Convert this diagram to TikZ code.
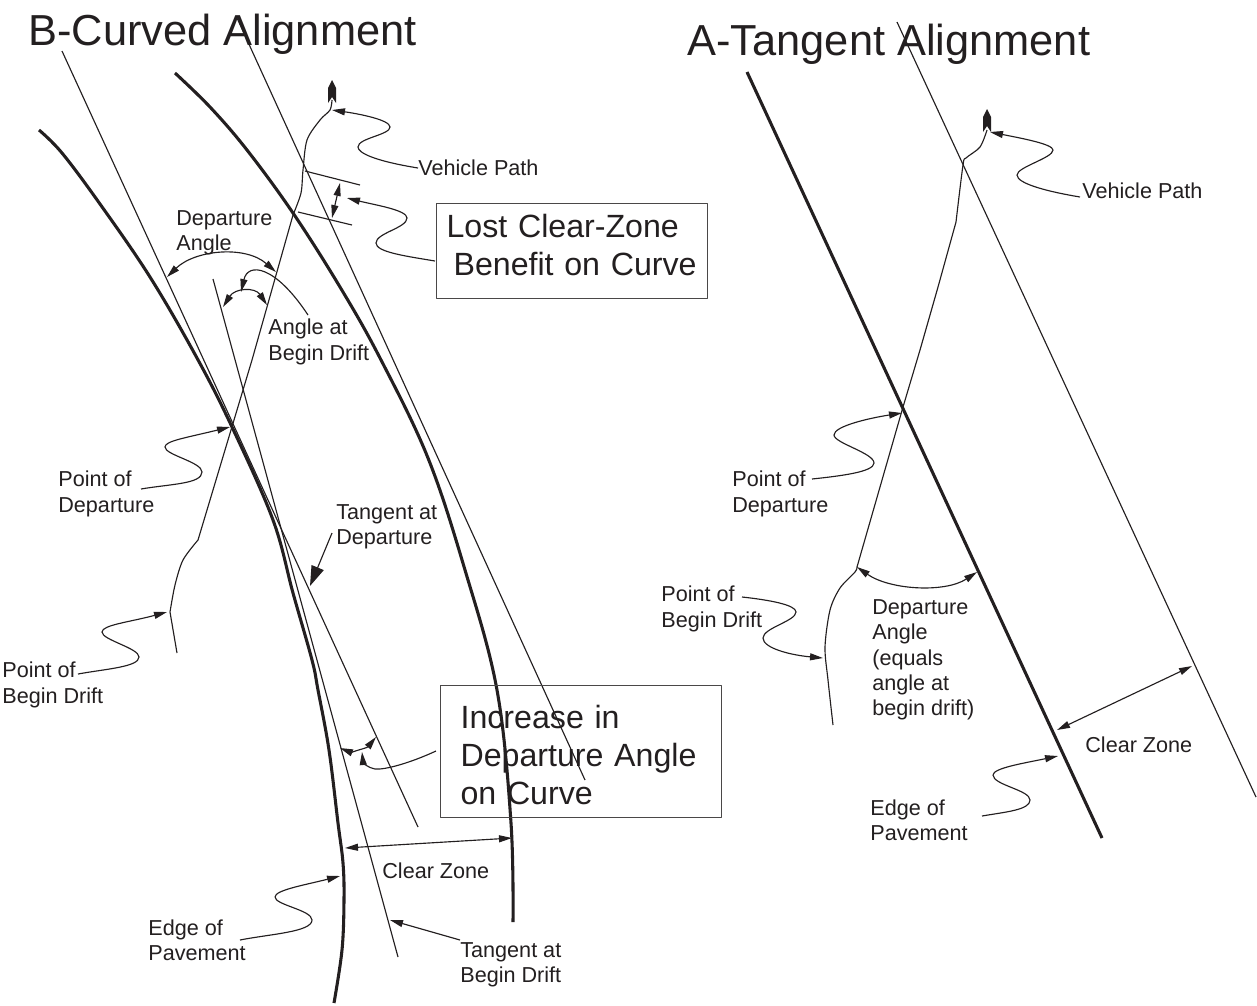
\documentclass[tikz,border=0pt]{standalone}
\usepackage{fontspec}
\setmainfont{Liberation Sans}
\usetikzlibrary{arrows.meta}
\definecolor{ink}{HTML}{231F20}
\definecolor{boxline}{HTML}{4A4848}
\begin{document}
\begin{tikzpicture}[
	x=0.02cm,
	y=-0.02cm,
	color=ink,
	line join=round,
	font=\fontsize{12.3}{14.4}\selectfont,
	thin line/.style={line width=0.65pt},
	thick line/.style={line width=1.75pt},
	leader/.style={line width=0.65pt,-{Triangle[length=2.6mm,width=1.4mm]}},
	both/.style={line width=0.65pt,{Triangle[length=2.6mm,width=1.4mm]}-{Triangle[length=2.6mm,width=1.4mm]}},
	label/.style={anchor=west,align=left,inner sep=0pt},
	title/.style={anchor=west,inner sep=0pt,font=\fontsize{24.7}{28}\selectfont},
	note/.style={draw=boxline,line width=0.65pt,anchor=north west,align=left,font=\fontsize{18.3}{21.7}\selectfont},
	vehicle/.pic={
		\fill (0,-12) -- (4,-4) -- (4,11) -- (0,5) -- (-4,11) -- (-4,-4) -- cycle;
	},
	]
\useasboundingbox (0,0) rectangle (1257,1005);
\node [title] (titleB) at (28,34) {B-Curved Alignment};
\node [title] (titleA) at (687,44) {A-Tangent Alignment};
\draw [thick line] plot [smooth,tension=0.6] coordinates {(39,130) (62,153) (100,204) (150,277) (197,358) (232,427) (273,520) (293,593) (312,660) (318,690) (329,750) (338,823) (343,863) (344,900) (342,950) (334,1003)};
\draw [thick line] plot [smooth,tension=0.6] coordinates {(175,73) (210,107) (247,150) (293,213) (340,287) (380,358) (428,458) (465,570) (497,690) (511,823) (513,922)};
\coordinate (tanDepTop) at (62,51);
\coordinate (tanDepEnd) at (418,827);
\coordinate (tanDrfTop) at (213,279);
\coordinate (tanDrfEnd) at (398,957);
\coordinate (offsetTop) at (237,18);
\coordinate (offsetEnd) at (585,780);
\draw [thin line] (tanDepTop) -- (tanDepEnd);
\draw [thin line] (tanDrfTop) -- (tanDrfEnd);
\draw [thin line] (offsetTop) -- (offsetEnd);
\draw [thin line] (177,653) -- (170,612) -- plot [smooth,tension=0.5] coordinates {(170,612) (175,585) (183,560) (198,540)} -- (252,360) -- (293,215) -- plot [smooth,tension=0.5] coordinates {(293,215) (301,193) (303,170) (307,140) (320,120) (330,110) (332,100)};
\pic at (332,92) {vehicle};
\coordinate (tickAa) at (305,171);
\coordinate (tickAb) at (360,185);
\coordinate (tickBa) at (298,212);
\coordinate (tickBb) at (352,225);
\coordinate (lostA) at (340,183);
\coordinate (lostB) at (332,218);
\draw [thin line] (tickAa) -- (tickAb);
\draw [thin line] (tickBa) -- (tickBb);
\draw [both] (lostA) -- (lostB);
\node [label] (pathB) at (418,168) {Vehicle Path};
\coordinate (pathBtip) at (332,110);
\draw [leader] (pathB.west) .. controls (375,161) and (358,153) .. (358,147) .. controls (358,138) and (390,135) .. (390,127) .. controls (390,120) and (360,114) .. (pathBtip);
\node [note,inner xsep=0.2cm,inner ysep=0pt,text width=5.02cm,minimum height=1.9cm] (lostbox) at (436,203) {Lost Clear-Zone\\\hspace*{0.14cm}Benefit on Curve\\[-0.52cm]\mbox{}};
\coordinate (lostStart) at (435,261);
\coordinate (lostTip) at (347,198);
\draw [leader] (lostStart) .. controls (405,256) and (376,252) .. (376,243) .. controls (376,233) and (407,228) .. (407,218) .. controls (407,210) and (375,205) .. (lostTip);
\node [label] (depAngB) at (176,233) {Departure\\Angle};
\coordinate (depAngBa) at (167,277);
\coordinate (depAngBb) at (276,272);
\draw [both] (depAngBa) .. controls (195,250) and (245,245) .. (depAngBb);
\coordinate (drfAngBa) at (223,307);
\coordinate (drfAngBb) at (267,305);
\draw [both] (drfAngBa) .. controls (235,288) and (255,287) .. (drfAngBb);
\node [label] (drfAngB) at (268,342) {Angle at\\Begin Drift};
\coordinate (drfAngStart) at (308,315);
\coordinate (drfAngTip) at (241,292);
\draw [leader] (drfAngStart) .. controls (275,265) and (248,262) .. (drfAngTip);
\node [label] (depPtB) at (58,494) {Point of\\Departure};
\coordinate (depPtBstart) at (141,489);
\coordinate (depPtBtip) at (230,427);
\draw [leader] (depPtBstart) .. controls (170,484) and (202,484) .. (202,472) .. controls (202,462) and (165,455) .. (165,447) .. controls (165,441) and (185,438) .. (depPtBtip);
\node [label] (tanDep) at (336,527) {Tangent at\\Departure};
\coordinate (tanDepStart) at (332,533);
\coordinate (tanDepTip) at (310,586);
\draw [line width=0.65pt,-{Triangle[length=4mm,width=2.6mm]}] (tanDepStart) -- (tanDepTip);
\node [label] (drfPtB) at (2,685) {Point of\\Begin Drift};
\coordinate (drfPtBstart) at (78,674);
\coordinate (drfPtBtip) at (167,612);
\draw [leader] (drfPtBstart) .. controls (105,669) and (139,667) .. (139,657) .. controls (139,648) and (102,640) .. (102,632) .. controls (102,625) and (130,622) .. (drfPtBtip);
\node [note,inner xsep=0.4cm,inner ysep=0pt,text width=4.82cm,minimum height=2.64cm] (incbox) at (440,685) {\mbox{}\\[-0.16cm]Increase in\\Departure Angle\\on Curve};
\coordinate (incAngA) at (340,748);
\coordinate (incAngB) at (376,737);
\draw [both] (incAngA) .. controls (350,752) and (367,748) .. (incAngB);
\coordinate (incStart) at (436,751);
\coordinate (incTip) at (362,752);
\draw [leader] (incStart) .. controls (410,763) and (385,770) .. (375,769) .. controls (368,768) and (363,762) .. (incTip);
\coordinate (zoneBa) at (345,848);
\coordinate (zoneBb) at (512,838);
\draw [both] (zoneBa) -- (zoneBb);
\node [label] (zoneB) at (382,871) {Clear Zone};
\node [label] (edgeB) at (148,940) {Edge of\\Pavement};
\coordinate (edgeBstart) at (240,940);
\coordinate (edgeBtip) at (340,876);
\draw [leader] (edgeBstart) .. controls (270,934) and (312,932) .. (312,920) .. controls (312,910) and (275,905) .. (275,897) .. controls (275,890) and (305,885) .. (edgeBtip);
\node [label] (tanDrf) at (460,965) {Tangent at\\Begin Drift};
\coordinate (tanDrfStart) at (460,940);
\coordinate (tanDrfTip) at (390,920);
\draw [leader] (tanDrfStart) -- (tanDrfTip);
\coordinate (edgeTop) at (747,72);
\coordinate (edgeEnd) at (1102,838);
\coordinate (zoneTop) at (897,22);
\coordinate (zoneEnd) at (1256,797);
\draw [thick line] (edgeTop) -- (edgeEnd);
\draw [thin line] (zoneTop) -- (zoneEnd);
\draw [thin line] plot [smooth,tension=0.5] coordinates {(833,725) (828,680) (825,647) (830,610) (840,588) (855,572) (857,567)} -- (903,407) -- (920,350) -- (938,287) -- (956,222) -- plot [smooth,tension=0.5] coordinates {(956,222) (963,165) (966,158) (980,147) (987,130)};
\pic at (987,121) {vehicle};
\node [label] (pathA) at (1082,191) {Vehicle Path};
\coordinate (pathAstart) at (1080,197);
\coordinate (pathAtip) at (990,132);
\draw [leader] (pathAstart) .. controls (1050,192) and (1017,184) .. (1017,175) .. controls (1017,167) and (1053,158) .. (1053,150) .. controls (1053,144) and (1020,138) .. (pathAtip);
\coordinate (depAngAa) at (857,567);
\coordinate (depAngAb) at (977,572);
\draw [both] (depAngAa) .. controls (890,590) and (945,593) .. (depAngAb);
\node [label] (depAngA) at (872,660) {Departure\\Angle\\(equals\\angle at\\begin drift)};
\node [label] (depPtA) at (732,494) {Point of\\Departure};
\coordinate (depPtAstart) at (812,479);
\coordinate (depPtAtip) at (902,413);
\draw [leader] (depPtAstart) .. controls (840,476) and (874,472) .. (874,463) .. controls (874,453) and (834,443) .. (834,435) .. controls (834,426) and (870,418) .. (depPtAtip);
\node [label] (drfPtA) at (661,609) {Point of\\Begin Drift};
\coordinate (drfPtAstart) at (742,597);
\coordinate (drfPtAtip) at (823,658);
\draw [leader] (drfPtAstart) .. controls (770,600) and (796,605) .. (796,612) .. controls (796,621) and (763,628) .. (763,638) .. controls (763,648) and (790,655) .. (drfPtAtip);
\coordinate (zoneAa) at (1057,730);
\coordinate (zoneAb) at (1192,666);
\draw [both] (zoneAa) -- (zoneAb);
\node [label] (zoneA) at (1085,745) {Clear Zone};
\node [label] (edgeA) at (870,820) {Edge of\\Pavement};
\coordinate (edgeAstart) at (982,816);
\coordinate (edgeAtip) at (1058,756);
\draw [leader] (edgeAstart) .. controls (1005,812) and (1030,810) .. (1030,800) .. controls (1030,790) and (993,785) .. (993,775) .. controls (993,768) and (1025,763) .. (edgeAtip);
\end{tikzpicture}
\end{document}
